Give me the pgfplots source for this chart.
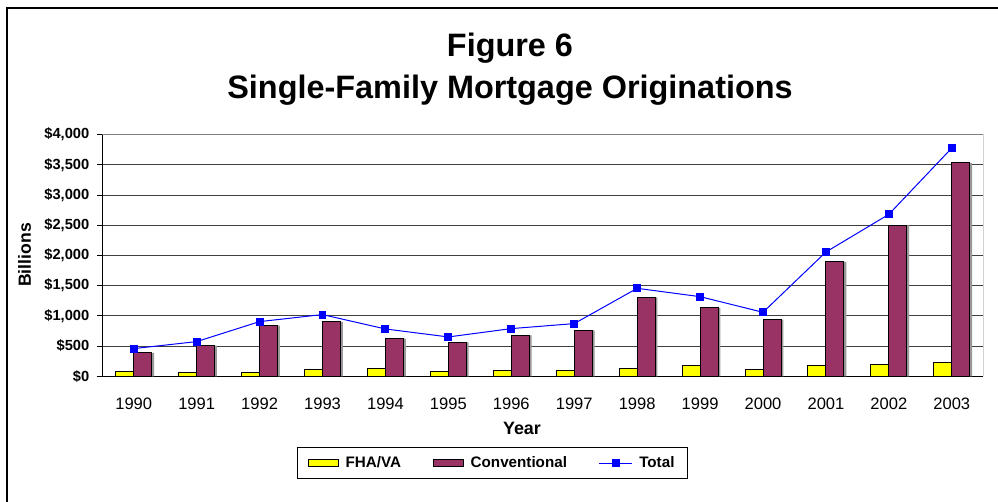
\documentclass[border=0pt]{standalone}
\usepackage{pgfplots}
\usepackage{pgfplotstable}
\pgfplotsset{compat=1.18}
\usepackage{fontspec}
\setmainfont{Liberation Sans}
\definecolor{plum}{RGB}{153,51,102}
\definecolor{fhay}{RGB}{255,255,0}
\definecolor{totblue}{RGB}{0,0,255}

\pgfplotsset{
  barleg/.style={legend image code/.code={\draw[##1] (0bp,-2.6bp) rectangle (22.5bp,2.6bp);}},
  lineleg/.style={legend image code/.code={\draw[##1] (0bp,0bp) -- (24.5bp,0bp); \draw[##1, only marks] plot coordinates {(12.25bp,0bp)};}},
}

\pgfplotstableread{
x fha conv total
0 77 386 458
1 55 508 574
2 55 839 905
3 116 899 1021
4 132 623 783
5 77 563 651
6 99 679 789
7 99 761 872
8 132 1307 1456
9 177 1131 1318
10 116 938 1059
11 177 1892 2058
12 193 2499 2681
13 232 3531 3779
}\data

\begin{document}
\begin{tikzpicture}
\useasboundingbox (0,0) rectangle (748.5bp,376.5bp);
\fill[white] (0,0) rectangle (748.5bp,376.5bp);
\draw[line width=1.5bp] (5.6bp,0bp) -- (5.6bp,370.5bp) -- (748.5bp,370.5bp);

\node[anchor=base, font=\fontsize{24.3bp}{29bp}\selectfont\bfseries] at (382.5bp,334bp) {Figure 6};
\node[anchor=base, font=\fontsize{24.3bp}{29bp}\selectfont\bfseries] at (382.5bp,302.25bp) {Single-Family Mortgage Originations};
\node[anchor=base, font=\fontsize{13.4bp}{16bp}\selectfont\bfseries] at (391.5bp,50.25bp) {Year};
\node[anchor=center, rotate=90, font=\fontsize{13.2bp}{16bp}\selectfont\bfseries] at (18.5bp,185.25bp) {Billions};

\begin{axis}[
  at={(76.7bp,94.3bp)}, anchor=south west,
  scale only axis, width=660.75bp, height=181.2bp,
  xmin=-0.5, xmax=13.5, ymin=0, ymax=4000,
  xtick={0,...,13},
  xticklabels={1990,1991,1992,1993,1994,1995,1996,1997,1998,1999,2000,2001,2002,2003},
  ytick={0,500,...,4000},
  axis x line*=bottom, axis y line*=left,
  axis line style={-, black, line width=1bp},
  ymajorgrids, grid style={black!75, line width=0.75bp},
  xtick style={draw=none},
  ytick style={black, line width=0.75bp},
  tick align=outside, major tick length=3.75bp,
  /pgf/number format/.cd, fixed, 1000 sep={,}, /pgfplots/.cd,
  yticklabel={\textbf{\$\pgfmathprintnumber[assume math mode=true]{\tick}}},
  yticklabel style={font=\fontsize{11bp}{13bp}\selectfont, xshift=-2.5bp},
  xticklabel style={font=\fontsize{12.4bp}{14bp}\selectfont, yshift=-9bp},
  legend columns=3,
  legend style={at={(0.443,-0.359)}, anchor=center, draw=black, line width=0.75bp,
    font=\fontsize{11.4bp}{13bp}\selectfont\bfseries,
    /tikz/every even column/.append style={column sep=22bp},
    /tikz/every odd column/.append style={column sep=3bp},
    inner xsep=8bp, inner ysep=5bp},
]
\addplot[ybar, bar width=13.5bp, bar shift=-5.0bp, fill=black!40, draw=none, forget plot] table[x=x,y=fha]{\data};
\addplot[ybar, bar width=13.5bp, bar shift=8.5bp, fill=black!40, draw=none, forget plot] table[x=x,y=conv]{\data};
\addplot[ybar, bar width=13.5bp, bar shift=-6.75bp, fill=fhay, draw=black, line width=0.75bp, barleg] table[x=x,y=fha]{\data};
\addlegendentry{FHA/VA}
\addplot[ybar, bar width=13.5bp, bar shift=6.75bp, fill=plum, draw=black, line width=0.75bp, barleg] table[x=x,y=conv]{\data};
\addlegendentry{Conventional}
\addplot[totblue, line width=0.75bp, mark=square*, mark size=2.6bp, mark options={fill=totblue, draw=totblue}, lineleg] table[x=x,y=total]{\data};
\addlegendentry{Total}
\draw[black!50, line width=0.75bp] (rel axis cs:0,1) -- (rel axis cs:1,1) -- (rel axis cs:1,0);
\end{axis}
\end{tikzpicture}
\end{document}
